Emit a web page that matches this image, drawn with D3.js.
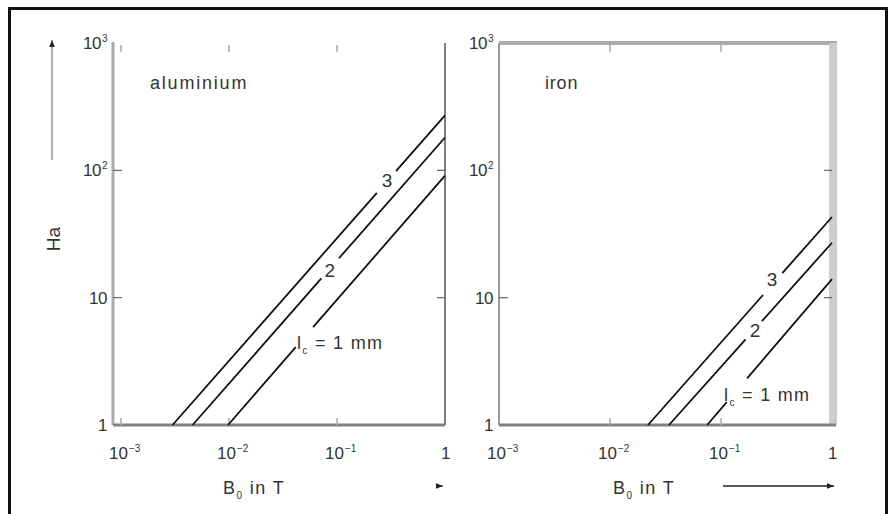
<!DOCTYPE html>
<html><head><meta charset="utf-8">
<script src="https://cdn.jsdelivr.net/npm/d3@7"></script>
<style>
html,body{margin:0;padding:0;background:#fff;}
text{font-family:"Liberation Sans",Arial,sans-serif;fill:#333;}
</style></head>
<body><svg id="c" width="891" height="514"></svg>
<script>
// ---- data ----
const panelNames = ["aluminium", "iron"];
const curveLabels = ["3", "2", "1"];            // l_c in mm
const aluStartB = [3.0e-3, 4.6e-3, 9.8e-3];     // B0 where Ha = 1
const aluEndHa  = [270, 181, 91];               // Ha at B0 = 1 T
const ironStartB = [0.022, 0.034, 0.075];
const ironEndHa  = [43, 27, 14];
const xTickValues = [1e-3, 1e-2, 1e-1, 1];
const xTickExp    = ["\u22123", "\u22122", "\u22121", null];
const yTickValues = [1, 10, 100, 1000];
const yTickExp    = [null, null, "2", "3"];
const xTitle = ["B", "0", " in T"];
const yTitle = "Ha";

// ---- layout ----
const svg = d3.select("#c");
svg.append("rect").attr("x", 9.5).attr("y", 8.5).attr("width", 877).attr("height", 520)
  .attr("fill", "none").attr("stroke", "#111").attr("stroke-width", 3);

const y = d3.scaleLog().domain([1, 1000]).range([425, 43]);
const panels = [
  { name: panelNames[0], x: d3.scaleLog().domain([Math.pow(10, -3.074), 1]).range([113, 445]),
    startB: aluStartB, endHa: aluEndHa, yLabX: 107,
    gaps: [[0.75, 0.82], [0.51, 0.58], [0.312, 0.392]],
    lab: [{t: 0.787, dx: 0, dy: 0}, {t: 0.544, dx: 0, dy: 2}],
    lc: {t: 0.327, dx: -2, dy: 6} },
  { name: panelNames[1], x: d3.scaleLog().domain([1e-3, 1]).range([499, 832]),
    startB: ironStartB, endHa: ironEndHa, yLabX: 493,
    gaps: [[0.625, 0.73], [0.47, 0.57], [0.157, 0.32]],
    lab: [{t: 0.674, dx: 0, dy: -5}, {t: 0.528, dx: 0, dy: 2}],
    lc: {t: 0.16, dx: -3, dy: -1} }
];

function lbl10(sel, exp) {
  sel.append("tspan").text("10");
  sel.append("tspan").attr("dy", -7).attr("font-size", 10).attr("dx", 1).text(exp);
}

panels.forEach((p, pi) => {
  const g = svg.append("g");
  const [x0, x1] = p.x.range();
  const [yb, yt] = y.range();
  // frame pieces
  if (pi === 0) {
    g.append("line").attr("x1", x0).attr("x2", x0).attr("y1", yt - 1).attr("y2", yb)
      .attr("stroke", "#aaa").attr("stroke-width", 3);
    g.append("line").attr("x1", x1).attr("x2", x1).attr("y1", yt).attr("y2", yb)
      .attr("stroke", "#555").attr("stroke-width", 1.5);
  } else {
    g.append("line").attr("x1", x0).attr("x2", x0).attr("y1", yt).attr("y2", yb)
      .attr("stroke", "#999").attr("stroke-width", 2);
    g.append("line").attr("x1", x0).attr("x2", x1 + 5).attr("y1", yt).attr("y2", yt)
      .attr("stroke", "#aaa").attr("stroke-width", 4);
    g.append("rect").attr("x", x1 - 3).attr("y", yt).attr("width", 8).attr("height", yb - yt)
      .attr("fill", "#ccc");
  }
  g.append("line").attr("x1", x0).attr("x2", x1 + (pi ? 4 : 0)).attr("y1", yb).attr("y2", yb)
    .attr("stroke", "#808080").attr("stroke-width", 3);

  // ticks
  xTickValues.forEach((v, i) => {
    const xx = p.x(v);
    if (i < 3 && !(pi === 1 && i === 0)) {
      g.append("line").attr("x1", xx).attr("x2", xx).attr("y1", yt + 2).attr("y2", yt + 9)
        .attr("stroke", "#aaa").attr("stroke-width", 1.5);
      g.append("line").attr("x1", xx).attr("x2", xx).attr("y1", yb - 7).attr("y2", yb)
        .attr("stroke", "#aaa").attr("stroke-width", 1.5);
    }
    const t = g.append("text").attr("x", xx + (xTickExp[i] ? -12 : -4)).attr("y", 459)
      .attr("font-size", 17);
    if (xTickExp[i]) lbl10(t, xTickExp[i]); else t.text("1");
  });
  yTickValues.forEach((v, i) => {
    const yy = y(v);
    if (i === 1 || i === 2) {
      if (!(pi === 1 && i === 2)) g.append("line").attr("x1", x0).attr("x2", x0 + 9).attr("y1", yy).attr("y2", yy)
        .attr("stroke", "#666").attr("stroke-width", 1.2);
      g.append("line").attr("x1", x1 - 8).attr("x2", x1).attr("y1", yy).attr("y2", yy)
        .attr("stroke", "#666").attr("stroke-width", 1.2);
    }
    const t = g.append("text").attr("x", p.yLabX).attr("y", yy + 6).attr("text-anchor", "end")
      .attr("font-size", 17).attr("letter-spacing", -0.5);
    if (yTickExp[i]) lbl10(t, yTickExp[i]); else t.text(String(v));
  });

  // panel name
  g.append("text").attr("x", x0 + (pi ? 46 : 37)).attr("y", 89).attr("font-size", 18)
    .attr("letter-spacing", pi ? 0.8 : 1.8).text(p.name);

  // curves
  const line = d3.line().x(d => p.x(d[0])).y(d => y(d[1]));
  p.startB.forEach((b, i) => {
    const pts = [[b, 1], [1, p.endHa[i]]];
    const path = g.append("path").attr("d", line(pts)).attr("fill", "none")
      .attr("stroke", "#111").attr("stroke-width", 1.8);
    const L = path.node().getTotalLength();
    const [ga, gb] = p.gaps[i];
    path.attr("stroke-dasharray", `${ga * L} ${(gb - ga) * L} ${L}`);
    const px = t => p.x(b) + t * (p.x(1) - p.x(b));
    const py = t => y(1) + t * (y(p.endHa[i]) - y(1));
    if (i < 2) {
      const lb = p.lab[i];
      g.append("text").attr("x", px(lb.t) + lb.dx).attr("y", py(lb.t) + lb.dy + 6)
        .attr("text-anchor", "middle").attr("font-size", 19).text(curveLabels[i]);
    } else {
      const t = g.append("text").attr("x", px(p.lc.t) + p.lc.dx).attr("y", py(p.lc.t) + p.lc.dy)
        .attr("font-size", 18).attr("letter-spacing", 1.3);
      t.append("tspan").text("l");
      t.append("tspan").attr("dy", 5).attr("font-size", 10).text("c");
      t.append("tspan").attr("dy", -5).text(" = " + curveLabels[i] + " mm");
    }
  });

  // x title
  const tx = g.append("text").attr("x", pi ? 613 : 223).attr("y", 494).attr("font-size", 18)
    .attr("letter-spacing", 1.4);
  tx.append("tspan").text(xTitle[0]);
  tx.append("tspan").attr("dy", 5).attr("font-size", 10).text(xTitle[1]);
  tx.append("tspan").attr("dy", -5).text(xTitle[2]);
});

// arrows
const defs = svg.append("defs");
defs.append("marker").attr("id", "ah").attr("viewBox", "0 0 10 10").attr("refX", 10).attr("refY", 5)
  .attr("markerWidth", 7).attr("markerHeight", 7).attr("markerUnits", "userSpaceOnUse").attr("orient", "auto")
  .append("path").attr("d", "M0,1 L10,5 L0,9 Z").attr("fill", "#222");
svg.append("line").attr("x1", 52).attr("x2", 52).attr("y1", 160).attr("y2", 40)
  .attr("stroke", "#999").attr("stroke-width", 1.5).attr("marker-end", "url(#ah)");
svg.append("line").attr("x1", 436).attr("x2", 443).attr("y1", 486).attr("y2", 486)
  .attr("stroke", "#222").attr("stroke-width", 1).attr("marker-end", "url(#ah)");
svg.append("line").attr("x1", 723).attr("x2", 834).attr("y1", 486).attr("y2", 486)
  .attr("stroke", "#222").attr("stroke-width", 1.5).attr("marker-end", "url(#ah)");
svg.append("text").attr("transform", "translate(60,239) rotate(-90)").attr("text-anchor", "middle")
  .attr("font-size", 19).text(yTitle);
</script></body></html>
